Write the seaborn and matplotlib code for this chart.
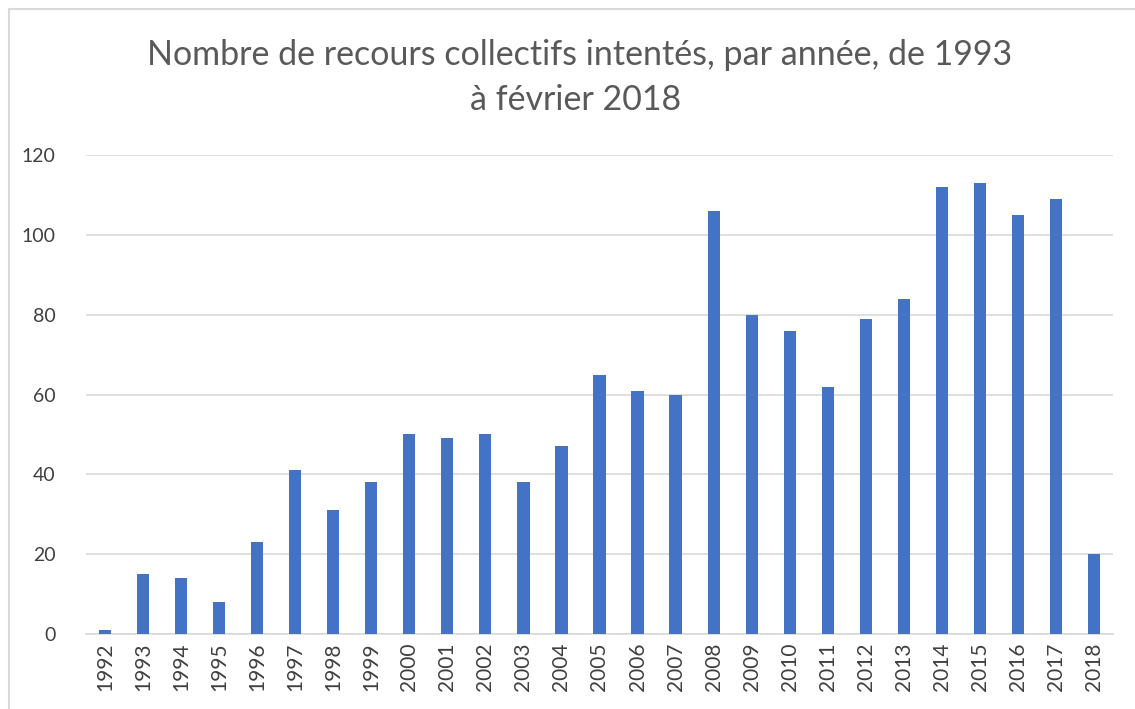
import matplotlib
matplotlib.use('Agg')
import matplotlib.pyplot as plt
import seaborn as sns
import pandas as pd
from matplotlib.lines import Line2D

# Data
years = [str(y) for y in range(1992, 2019)]
counts = [1, 15, 14, 8, 23, 41, 31, 38, 50, 49, 50, 38, 47, 65, 61, 60,
          106, 80, 76, 62, 79, 84, 112, 113, 105, 109, 20]
y_ticks = [0, 20, 40, 60, 80, 100, 120]

df = pd.DataFrame({'annee': years, 'recours': counts})

sns.set_theme(style='white')
plt.rcParams['font.family'] = ['Lato', 'DejaVu Sans']

fig = plt.figure(figsize=(11.35, 7.09), dpi=100)
ax = fig.add_axes([86 / 1135, 1 - 634 / 709, (1113 - 86) / 1135, (634 - 155) / 709])

sns.barplot(data=df, x='annee', y='recours', color='#4472C4', width=0.32,
            saturation=1, linewidth=0, ax=ax, zorder=3)

ax.set_ylim(0, 120)
ax.set_yticks(y_ticks)
ax.set_xlim(-0.5, len(years) - 0.5)
ax.yaxis.grid(True, color='#D9D9D9', linewidth=1.2, zorder=0)
ax.set_axisbelow(True)
for side in ['top', 'right', 'left']:
    ax.spines[side].set_visible(False)
ax.spines['bottom'].set_color('#D9D9D9')
ax.spines['bottom'].set_linewidth(1.2)
ax.set_xlabel('')
ax.set_ylabel('')
ax.tick_params(axis='x', labelrotation=90, labelsize=15, labelcolor='#404040',
               length=0, pad=6)
ax.tick_params(axis='y', labelsize=14, labelcolor='#404040', length=0, pad=22)

fig.text(580 / 1135, 1 - 55 / 709, 'Nombre de recours collectifs intentés, par année, de 1993',
         ha='center', va='center', fontsize=24.5, color='#595959')
fig.text(576 / 1135, 1 - 100 / 709, 'à février 2018',
         ha='center', va='center', fontsize=24.5, color='#595959')

# chart frame
fig.add_artist(Line2D([9 / 1135, 9 / 1135], [0, 1 - 9 / 709], color='#D9D9D9',
                      linewidth=1.5, transform=fig.transFigure))
fig.add_artist(Line2D([9 / 1135, 1], [1 - 9 / 709, 1 - 9 / 709], color='#D9D9D9',
                      linewidth=1.5, transform=fig.transFigure))

fig.savefig('out.png', dpi=100)
